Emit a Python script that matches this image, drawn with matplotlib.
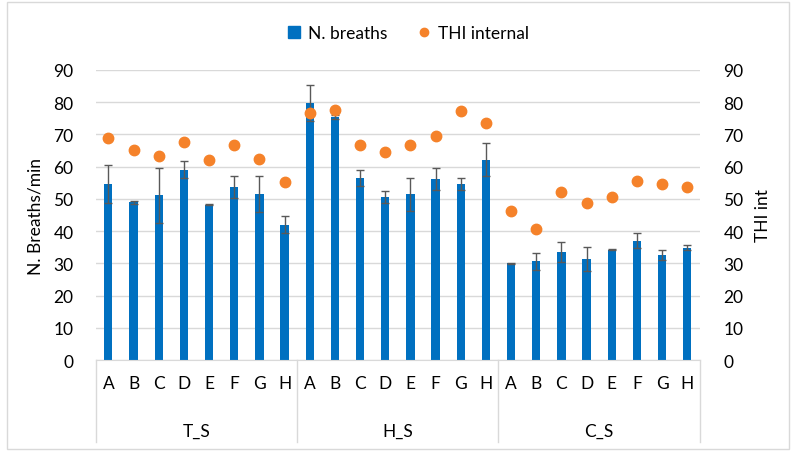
import numpy as np
import matplotlib
matplotlib.use("Agg")
import matplotlib.pyplot as plt
import matplotlib.transforms as mtransforms
from matplotlib.patches import Rectangle

plt.rcParams['font.family'] = ['Lato', 'DejaVu Sans']

groups = ["T_S", "H_S", "C_S"]
letters = ["A", "B", "C", "D", "E", "F", "G", "H"]

breaths = [54.6, 48.9, 51.1, 59.1, 48.2, 53.7, 51.4, 42.0,
           79.9, 75.4, 56.5, 50.6, 51.4, 56.2, 54.6, 62.2,
           30.0, 30.6, 33.4, 31.3, 34.2, 37.0, 32.5, 34.8]
breaths_err = [5.8, 0.4, 8.5, 2.6, 0.2, 3.3, 5.6, 2.7,
               5.6, 0.6, 2.5, 2.0, 5.1, 3.4, 1.9, 5.2,
               0.2, 2.7, 3.1, 3.7, 0.2, 2.3, 1.6, 0.8]
thi = [69.0, 65.3, 63.3, 67.8, 62.1, 66.7, 62.4, 55.3,
       76.6, 77.5, 66.7, 64.6, 66.7, 69.6, 77.2, 73.5,
       46.2, 40.8, 52.2, 48.8, 50.6, 55.5, 54.5, 53.8]

BLUE = "#0070C0"
ORANGE = "#F5822A"
GRID = "#D9D9D9"

fig = plt.figure(figsize=(7.98, 4.56), dpi=100)
fig.patches.append(Rectangle((0.009, 0.013), 0.980, 0.98, transform=fig.transFigure,
                             fill=False, edgecolor="#D9D9D9", lw=1.0))
ax = fig.add_axes([0.120, 0.2083, 0.757, 0.636])
ax2 = ax.twinx()

x = np.arange(len(breaths))
ax.bar(x, breaths, width=0.33, color=BLUE, zorder=2)
ax.errorbar(x, breaths, yerr=breaths_err, fmt="none", ecolor="#595959",
            elinewidth=1.0, capsize=3, capthick=1.0, zorder=3)

ax.set_xlim(-0.5, len(x) - 0.5)
ax.set_ylim(0, 90)
ax.set_yticks(np.arange(0, 91, 10))
ax.yaxis.grid(True, color=GRID, lw=1.0, zorder=0)
ax.set_axisbelow(True)
for s in ax.spines.values():
    s.set_visible(False)
ax.spines["bottom"].set_visible(True)
ax.spines["bottom"].set_color(GRID)
ax.tick_params(axis="y", length=0, pad=16, labelsize=12.5, colors="#000000")
ax.tick_params(axis="x", length=0, pad=11, labelsize=12.5)
ax.set_xticks(x)
ax.set_xticklabels(letters * len(groups))
ax.set_ylabel("N. Breaths/min", fontsize=12.5, labelpad=7)

ax2.plot(x, thi, "o", color=ORANGE, markersize=7.5, zorder=4)
ax2.set_ylim(0, 90)
ax2.set_yticks(np.arange(0, 91, 10))
for s in ax2.spines.values():
    s.set_visible(False)
ax2.tick_params(axis="y", length=0, pad=17, labelsize=12.5)
ax2.set_ylabel("THI int", fontsize=12.5, labelpad=8)
# keep dots on top of bars
ax2.set_zorder(ax.get_zorder() + 1)
ax2.patch.set_visible(False)

# group labels and separators under the category axis
trans = mtransforms.blended_transform_factory(ax.transData, ax.transAxes)
n = len(letters)
bounds = [i * n - 0.5 for i in range(len(groups) + 1)]
for b in bounds:
    ax.plot([b, b], [0, -0.283], transform=trans, color=GRID, lw=1.0, clip_on=False)
for i, g in enumerate(groups):
    ax.text(i * n + (n - 1) / 2, -0.245, g, transform=trans, ha="center", va="center",
            fontsize=12.5)

# legend
h1 = plt.Line2D([], [], marker="s", ls="none", color=BLUE, markersize=8)
h2 = plt.Line2D([], [], marker="o", ls="none", color=ORANGE, markersize=6)
fig.legend([h1, h2], ["N. breaths", "THI internal"], loc="center",
           bbox_to_anchor=(0.51, 0.925), ncol=2, frameon=False, fontsize=12.5,
           handletextpad=0.3, columnspacing=1.6, handlelength=1.0)

fig.savefig("out.png", dpi=100)
